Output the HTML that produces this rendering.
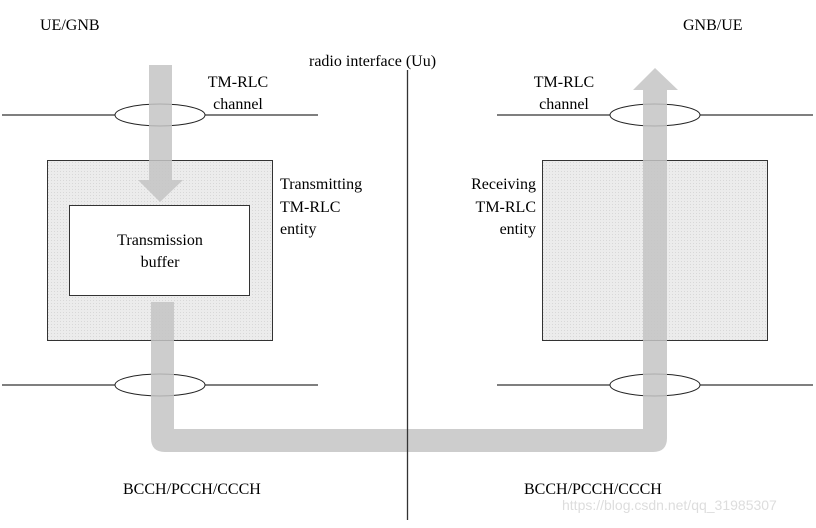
<!DOCTYPE html>
<html><head><meta charset="utf-8"><style>
body{margin:0;background:#fff;}
</style></head><body>
<svg width="816" height="523" viewBox="0 0 816 523" xmlns="http://www.w3.org/2000/svg">
<defs>
<pattern id="dots" width="3" height="3" patternUnits="userSpaceOnUse">
<rect width="3" height="3" fill="#ececec"/><rect width="1" height="1" fill="#d8d8d8"/>
</pattern>
</defs>
<rect x="47.5" y="160.5" width="225" height="180" fill="url(#dots)" stroke="#333"/>
<rect x="69.5" y="205.5" width="180" height="90" fill="#fff" stroke="#333"/>
<rect x="542.5" y="160.5" width="225" height="180" fill="url(#dots)" stroke="#333"/>
<g stroke="#333" stroke-width="1.2" fill="none">
<line x1="2" y1="115" x2="318" y2="115"/>
<line x1="2" y1="385" x2="318" y2="385"/>
<line x1="497" y1="115" x2="813" y2="115"/>
<line x1="497" y1="385" x2="813" y2="385"/>
</g>
<g fill="#fff" stroke="#222" stroke-width="1">
<ellipse cx="160" cy="115" rx="45" ry="11"/>
<ellipse cx="160" cy="385" rx="45" ry="11"/>
<ellipse cx="655" cy="115" rx="45" ry="11"/>
<ellipse cx="655" cy="385" rx="45" ry="11"/>
</g>
<g fill="#c4c4c4" fill-opacity="0.85">
<rect x="149" y="65" width="23" height="115"/>
<polygon points="138,180 183,180 160,202"/>
<path d="M151 302 H174 V429 H643 V90 H633 L655 68 L678 90 H667 V438 Q667 452 653 452 H165 Q151 452 151 438 Z"/>
</g>
<line x1="407.5" y1="70" x2="407.5" y2="520" stroke="#333" stroke-width="1.3"/>
<g font-family="Liberation Serif, DejaVu Serif, serif" font-size="16" fill="#000">
<text x="40" y="30">UE/GNB</text>
<text x="683" y="30">GNB/UE</text>
<text x="309" y="66">radio interface (Uu)</text>
<text x="238" y="87" text-anchor="middle">TM-RLC</text>
<text x="238" y="109" text-anchor="middle">channel</text>
<text x="564" y="87" text-anchor="middle">TM-RLC</text>
<text x="564" y="109" text-anchor="middle">channel</text>
<text x="280" y="189">Transmitting</text>
<text x="280" y="212">TM-RLC</text>
<text x="280" y="234">entity</text>
<text x="536" y="189" text-anchor="end">Receiving</text>
<text x="536" y="212" text-anchor="end">TM-RLC</text>
<text x="536" y="234" text-anchor="end">entity</text>
<text x="160" y="245" text-anchor="middle">Transmission</text>
<text x="160" y="267" text-anchor="middle">buffer</text>
<text x="123" y="494">BCCH/PCCH/CCCH</text>
<text x="524" y="494">BCCH/PCCH/CCCH</text>
</g>
<text x="562" y="510" font-family="Liberation Sans, sans-serif" font-size="14" fill="#ddd">https://blog.csdn.net/qq_31985307</text>
</svg>
</body></html>
